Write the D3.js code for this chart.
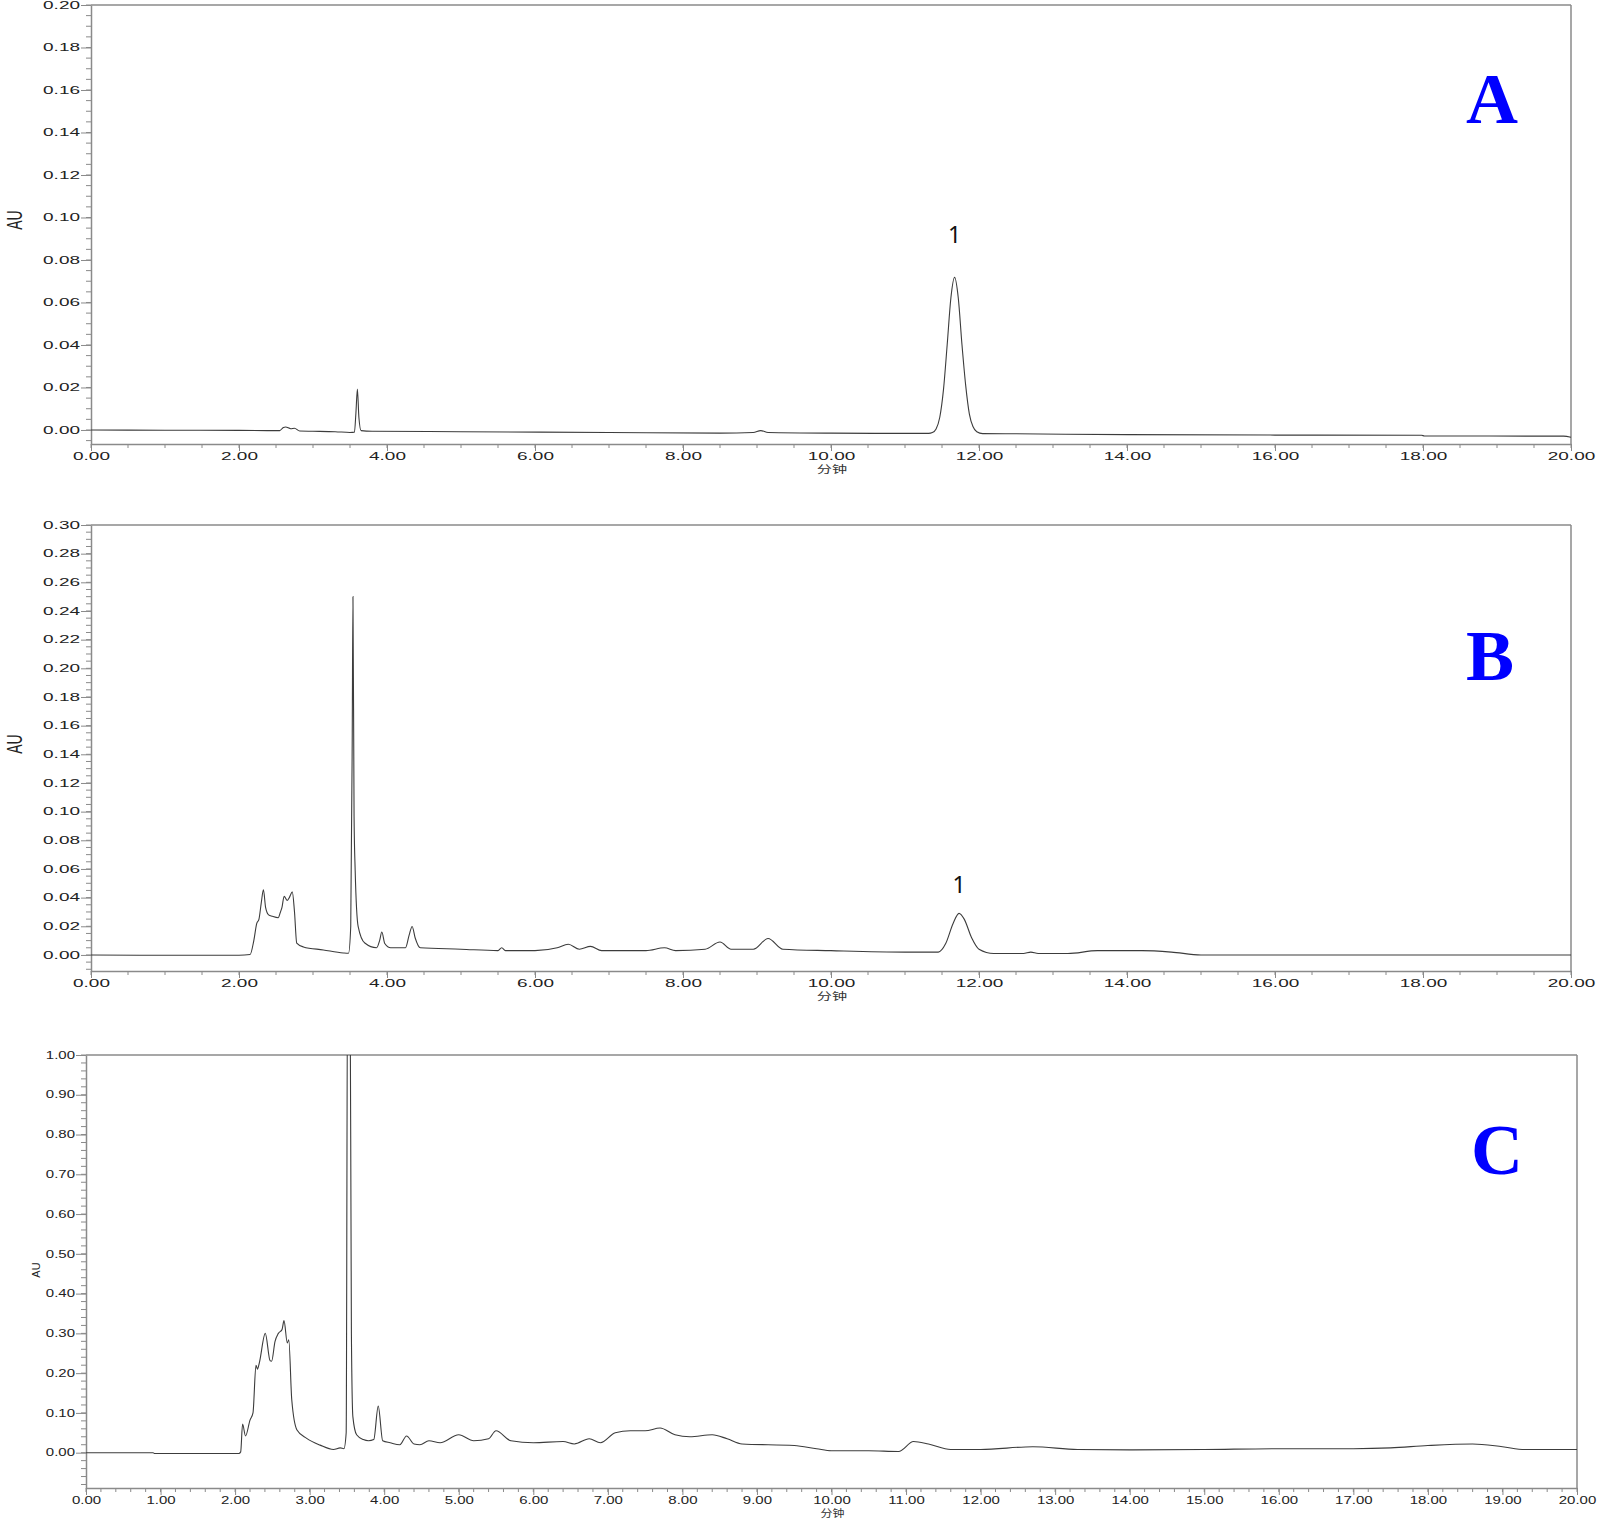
<!DOCTYPE html>
<html>
<head>
<meta charset="utf-8">
<script src="https://cdn.jsdelivr.net/npm/d3@7"></script>
<style>
  body { margin: 0; background: #fff; }
  svg { display: block; }
</style>
</head>
<body>
<script>
// chromatogram traces, [minutes, AU]
const traceA = [
  [0, 0], [1.0, -0.0001], [2.0, -0.0002], [2.55, -0.0003], [2.6, 0.0012], [2.63, 0.0014],
  [2.7, 0.0006], [2.75, 0.0008], [2.82, -0.0005], [3.0, -0.0006], [3.3, -0.0008], [3.5, -0.0012],
  [3.56, -0.0010], [3.58, 0.008], [3.6, 0.0193], [3.62, 0.006], [3.65, -0.0003], [3.8, -0.0006],
  [5.0, -0.0008], [7.0, -0.0012], [8.5, -0.0015], [8.95, -0.0012], [9.05, -0.0003], [9.15, -0.0012],
  [10.0, -0.0015], [11.0, -0.0016], [11.32, -0.0016], [11.37, -0.0012], [11.42, 0.0005],
  [11.47, 0.0060], [11.52, 0.0190], [11.57, 0.0401], [11.62, 0.0621], [11.67, 0.0718],
  [11.72, 0.0621], [11.77, 0.0401], [11.82, 0.0210], [11.87, 0.0075], [11.92, 0.0015],
  [11.97, -0.0008], [12.05, -0.0017], [12.5, -0.0018], [14.0, -0.0022], [16.0, -0.0024],
  [17.98, -0.0025], [18.02, -0.0028], [19.9, -0.0029], [20.0, -0.0034]
];

const traceB = [
  [0, 0], [1.0, -0.0002], [2.0, -0.0002], [2.15, 0.0003], [2.2, 0.010], [2.24, 0.022], [2.27, 0.025],
  [2.3, 0.036], [2.33, 0.0454], [2.36, 0.033], [2.4, 0.028], [2.45, 0.027], [2.53, 0.026],
  [2.56, 0.030], [2.58, 0.033], [2.61, 0.041], [2.65, 0.038], [2.68, 0.040], [2.72, 0.044],
  [2.75, 0.030], [2.78, 0.0083], [2.87, 0.0056], [3.14, 0.0035], [3.41, 0.0014], [3.48, 0.0012],
  [3.51, 0.020], [3.53, 0.150], [3.54, 0.250], [3.555, 0.0965], [3.57, 0.059], [3.61, 0.020],
  [3.7, 0.0083], [3.86, 0.005], [3.9, 0.010], [3.93, 0.016], [3.97, 0.008], [4.05, 0.005],
  [4.25, 0.005], [4.3, 0.014], [4.34, 0.0199], [4.38, 0.012], [4.45, 0.005], [5.0, 0.004],
  [5.5, 0.003], [5.55, 0.005], [5.6, 0.003], [6.0, 0.003], [6.3, 0.005], [6.45, 0.0075],
  [6.6, 0.004], [6.75, 0.006], [6.9, 0.003], [7.5, 0.003], [7.75, 0.005], [7.9, 0.003],
  [8.3, 0.004], [8.5, 0.009], [8.65, 0.004], [8.95, 0.004], [9.15, 0.0115], [9.35, 0.004],
  [10.0, 0.003], [11.0, 0.002], [11.45, 0.002], [11.55, 0.008], [11.65, 0.022], [11.73, 0.029],
  [11.8, 0.025], [11.9, 0.012], [12.0, 0.004], [12.2, 0.001], [12.6, 0.001], [12.7, 0.002],
  [12.8, 0.001], [13.2, 0.001], [13.6, 0.003], [14.2, 0.003], [14.6, 0.002], [15.0, 0.0],
  [16.0, 0.0], [20.0, 0.0]
];

const traceC = [
  [0, 0], [0.9, 0], [0.92, -0.002], [2.05, -0.002], [2.075, 0.002], [2.1, 0.072], [2.14, 0.042],
  [2.2, 0.082], [2.24, 0.10], [2.28, 0.22], [2.3, 0.21], [2.325, 0.226], [2.405, 0.30],
  [2.47, 0.231], [2.49, 0.23], [2.535, 0.279], [2.58, 0.30], [2.63, 0.31], [2.656, 0.332],
  [2.7, 0.276], [2.72, 0.284], [2.76, 0.133], [2.83, 0.057], [2.96, 0.036], [3.14, 0.019],
  [3.32, 0.008], [3.41, 0.012], [3.46, 0.010], [3.49, 0.05], [3.51, 1.30], [3.54, 1.30],
  [3.56, 0.30], [3.58, 0.09], [3.63, 0.045], [3.72, 0.033], [3.79, 0.030], [3.86, 0.033],
  [3.92, 0.117], [3.98, 0.030], [4.08, 0.025], [4.21, 0.020], [4.3, 0.042], [4.4, 0.022],
  [4.48, 0.020], [4.6, 0.030], [4.75, 0.025], [5.0, 0.045], [5.2, 0.030], [5.4, 0.035],
  [5.5, 0.055], [5.7, 0.030], [6.0, 0.025], [6.4, 0.028], [6.55, 0.022], [6.75, 0.035],
  [6.9, 0.025], [7.1, 0.050], [7.3, 0.055], [7.5, 0.055], [7.7, 0.062], [7.9, 0.045],
  [8.1, 0.040], [8.4, 0.045], [8.6, 0.035], [8.8, 0.022], [9.5, 0.018], [9.8, 0.010],
  [10.0, 0.005], [10.5, 0.005], [10.9, 0.003], [11.1, 0.028], [11.3, 0.022], [11.6, 0.008],
  [12.0, 0.008], [12.7, 0.015], [13.3, 0.008], [14.0, 0.007], [15.0, 0.008], [16.0, 0.010],
  [17.0, 0.010], [17.5, 0.012], [18.0, 0.018], [18.6, 0.022], [19.0, 0.015], [19.3, 0.008],
  [20.0, 0.008]
];

const panelLetters = ["A", "B", "C"];
const yTicksA = [0.00, 0.02, 0.04, 0.06, 0.08, 0.10, 0.12, 0.14, 0.16, 0.18, 0.20];
const yTicksB = [0.00, 0.02, 0.04, 0.06, 0.08, 0.10, 0.12, 0.14, 0.16, 0.18, 0.20, 0.22, 0.24, 0.26, 0.28, 0.30];
const yTicksC = [0.00, 0.10, 0.20, 0.30, 0.40, 0.50, 0.60, 0.70, 0.80, 0.90, 1.00];
const xTicksAB = [0, 2, 4, 6, 8, 10, 12, 14, 16, 18, 20];
const xTicksC = [0, 1, 2, 3, 4, 5, 6, 7, 8, 9, 10, 11, 12, 13, 14, 15, 16, 17, 18, 19, 20];
// peak number annotations, anchored at (minutes, AU)
const peakLabels = [{ panel: 0, t: 11.67, v: 0.088, text: "1" }, { panel: 1, t: 11.73, v: 0.043, text: "1" }];
const xTitle = "分钟";
const yTitle = "AU";

const W = 1600, H = 1527;
const axisColor = "#8a8a8a";
const lineColor = "#3c3c3c";

const panels = [
  { trace: traceA, yTicks: yTicksA, xTicks: xTicksAB, yMinor: 0.005, xMinor: 0.5,
    x0: 91, x1: 1571, yTop: 5, yBot: 444, yDom: [-0.0066, 0.20],
    fs: 10, sx: 1.9, letterPos: [1492, 123], yTitlePos: [22, 220] },
  { trace: traceB, yTicks: yTicksB, xTicks: xTicksAB, yMinor: 0.005, xMinor: 0.5,
    x0: 91, x1: 1571, yTop: 525, yBot: 971, yDom: [-0.0112, 0.30],
    fs: 10, sx: 1.9, letterPos: [1490, 680], yTitlePos: [22, 744] },
  { trace: traceC, yTicks: yTicksC, xTicks: xTicksC, yMinor: 0.02, xMinor: 0.2,
    x0: 86, x1: 1577, yTop: 1055, yBot: 1488, yDom: [-0.0888, 1.00],
    fs: 10, sx: 1.5, letterPos: [1497, 1174], yTitlePos: [40, 1270] }
];

const svg = d3.select("body").append("svg")
  .attr("width", W)
  .attr("height", H)
  .style("background", "#fff");

panels.forEach((p, i) => {
  const x = d3.scaleLinear().domain([0, 20]).range([p.x0, p.x1]);
  const y = d3.scaleLinear().domain(p.yDom).range([p.yBot, p.yTop]);
  const g = svg.append("g");

  // minor ticks
  const yMin = d3.range(Math.ceil(p.yDom[0] / p.yMinor) * p.yMinor, p.yDom[1] + 1e-9, p.yMinor);
  g.append("g").selectAll("line").data(yMin).join("line")
    .attr("x1", p.x0 - 5).attr("x2", p.x0)
    .attr("y1", d => y(d)).attr("y2", d => y(d))
    .attr("stroke", axisColor).attr("stroke-width", 1);
  const xMin = d3.range(0, 20 + 1e-9, p.xMinor);
  g.append("g").selectAll("line").data(xMin).join("line")
    .attr("x1", d => x(d)).attr("x2", d => x(d))
    .attr("y1", p.yBot).attr("y2", p.yBot + 4)
    .attr("stroke", axisColor).attr("stroke-width", 1);

  // major axes
  const yAxis = g.append("g")
    .attr("transform", `translate(${p.x0},0)`)
    .call(d3.axisLeft(y).tickValues(p.yTicks).tickSize(10).tickSizeOuter(0).tickFormat(d3.format(".2f")));
  const xAxis = g.append("g")
    .attr("transform", `translate(0,${p.yBot})`)
    .call(d3.axisBottom(x).tickValues(p.xTicks).tickSize(7).tickSizeOuter(0).tickFormat(d3.format(".2f")));

  [yAxis, xAxis].forEach(a => {
    a.select(".domain").attr("stroke", axisColor).attr("stroke-width", 1.5);
    a.selectAll(".tick line").attr("stroke", axisColor).attr("stroke-width", 1);
    a.selectAll(".tick text")
      .attr("fill", "#222")
      .style("font-family", "Liberation Sans, Arial, sans-serif")
      .style("font-size", p.fs + "px");
  });
  yAxis.selectAll(".tick text")
    .attr("transform", `scale(${p.sx},1)`)
    .attr("x", -11 / p.sx);
  xAxis.selectAll(".tick text")
    .attr("transform", `scale(${p.sx},1)`)
    .attr("y", 9);

  // frame top and right
  g.append("line").attr("x1", p.x0).attr("x2", p.x1).attr("y1", p.yTop).attr("y2", p.yTop)
    .attr("stroke", axisColor).attr("stroke-width", 1.5);
  g.append("line").attr("x1", p.x1).attr("x2", p.x1).attr("y1", p.yTop).attr("y2", p.yBot)
    .attr("stroke", axisColor).attr("stroke-width", 1.5);

  // trace
  const clipId = "clip" + i;
  svg.append("clipPath").attr("id", clipId).append("rect")
    .attr("x", p.x0).attr("y", p.yTop).attr("width", p.x1 - p.x0).attr("height", p.yBot - p.yTop);
  g.append("path")
    .datum(p.trace)
    .attr("clip-path", `url(#${clipId})`)
    .attr("fill", "none")
    .attr("stroke", lineColor)
    .attr("stroke-width", 1.1)
    .attr("d", d3.line().x(d => x(d[0])).y(d => y(d[1])).curve(d3.curveMonotoneX));

  // axis titles
  g.append("text")
    .attr("transform", `translate(${(p.x0 + p.x1) / 2 + 1},${p.yBot + 29}) scale(${p.sx * 0.8},1)`)
    .attr("text-anchor", "middle")
    .style("font-family", "Noto Sans CJK SC, sans-serif")
    .style("font-size", "10px")
    .attr("fill", "#333")
    .text(xTitle);
  g.append("text")
    .attr("transform", `translate(${p.yTitlePos[0]},${p.yTitlePos[1]}) scale(${i < 2 ? 1.6 : 1},1) rotate(-90)`)
    .attr("text-anchor", "middle")
    .style("font-family", "Liberation Sans, Arial, sans-serif")
    .style("font-size", (i < 2 ? 14 : 11) + "px")
    .attr("fill", "#222")
    .text(yTitle);

  // panel letter
  g.append("text")
    .attr("x", p.letterPos[0]).attr("y", p.letterPos[1])
    .attr("text-anchor", "middle")
    .style("font-family", "Liberation Serif, Times New Roman, serif")
    .style("font-weight", "bold")
    .style("font-size", "72px")
    .attr("fill", "#0000ff")
    .text(panelLetters[i]);

  // peak numbers
  peakLabels.filter(l => l.panel === i).forEach(l => {
    g.append("text")
      .attr("x", x(l.t)).attr("y", y(l.v))
      .attr("text-anchor", "middle")
      .style("font-family", "Noto Sans, sans-serif")
      .style("font-size", "23px")
      .attr("fill", "#111")
      .text(l.text);
  });
});
</script>
</body>
</html>
